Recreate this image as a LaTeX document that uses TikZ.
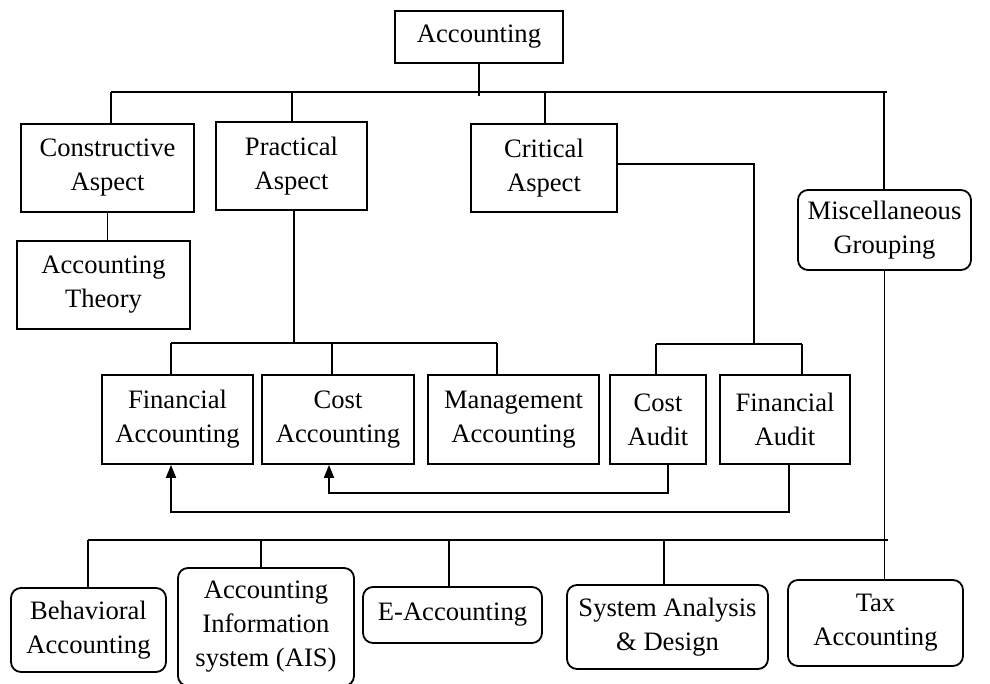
\documentclass[tikz,border=0pt]{standalone}
\usepackage{fontspec}
\setmainfont{Liberation Serif}
\usetikzlibrary{arrows.meta}
\begin{document}
\begin{tikzpicture}[x=1pt,y=-1pt,
  box/.style={draw, line width=1.8pt, align=center, inner sep=0pt,
    font=\fontsize{26.6}{34}\selectfont},
  rbox/.style={box, rounded corners=10pt},
  link/.style={line width=1.8pt},
  arrowlink/.style={link, -{Triangle[length=13pt,width=10pt]}}]
\useasboundingbox (0,0) rectangle (990,684);

% boxes
\node[box, minimum width=168pt, minimum height=52pt] (acc) at (479,37) {Accounting};
\node[box, minimum width=173pt, minimum height=88pt] (cons) at (107.5,168) {Constructive\\Aspect};
\node[box, minimum width=151pt, minimum height=88pt] (prac) at (291.5,166) {Practical\\Aspect};
\node[box, minimum width=146pt, minimum height=88pt] (crit) at (544,168) {Critical\\Aspect};
\node[rbox, minimum width=173pt, minimum height=80pt] (misc) at (884.5,230) {Miscellaneous\\Grouping};
\node[box, minimum width=173pt, minimum height=88pt] (theory) at (103.5,285) {Accounting\\Theory};
\node[box, minimum width=151pt, minimum height=89pt] (facc) at (177.5,419.5) {Financial\\Accounting};
\node[box, minimum width=152pt, minimum height=89pt] (cacc) at (338,419.5) {Cost\\Accounting};
\node[box, minimum width=171pt, minimum height=89pt] (macc) at (513.5,419.5) {Management\\Accounting};
\node[box, minimum width=96pt, minimum height=89pt] (caud) at (658,419.5) {Cost\\Audit};
\node[box, minimum width=130pt, minimum height=89pt] (faud) at (785,419.5) {Financial\\Audit};
\node[rbox, minimum width=155pt, minimum height=84pt] (beh) at (88.5,630) {Behavioral\\Accounting};
\node[rbox, minimum width=176pt, minimum height=118pt] (ais) at (266,627) {Accounting\\Information\\system (AIS)};
\node[rbox, minimum width=179pt, minimum height=56pt] (eacc) at (452.5,615) {E-Accounting};
\node[rbox, minimum width=201pt, minimum height=84pt] (sad) at (667.5,627) {System Analysis\\\& Design};
\node[rbox, minimum width=175pt, minimum height=86pt] (tax) at (875.5,623) {Tax\\Accounting};

% first level bus
\coordinate (b1l) at (111,92);
\coordinate (b1p) at (292,92);
\coordinate (b1c) at (545,92);
\coordinate (b1r) at (887,92);
\coordinate (b1m) at (884,92);
\draw[link] (b1l) -- (b1r);
\draw[link] (acc.south) -- ++(0,32);
\draw[link] (b1l) -- (b1l |- cons.north);
\draw[link] (b1p) -- (b1p |- prac.north);
\draw[link] (b1c) -- (b1c |- crit.north);
\draw[link] (b1m) -- (b1m |- misc.north);
\draw[link] (cons.south) -- (cons.south |- theory.north);

% practical aspect branches
\coordinate (b2p) at (294,343);
\coordinate (b2l) at (171,343);
\coordinate (b2c) at (332,343);
\coordinate (b2r) at (497,343);
\draw[link] (b2p |- prac.south) -- (b2p);
\draw[link] (b2l) -- (b2r);
\draw[link] (b2l) -- (b2l |- facc.north);
\draw[link] (b2c) -- (b2c |- cacc.north);
\draw[link] (b2r) -- (b2r |- macc.north);

% critical aspect branches
\coordinate (cj) at (754,164);
\coordinate (b3c) at (754,344);
\coordinate (b3l) at (656,344);
\coordinate (b3r) at (802,344);
\draw[link] (cj -| crit.east) -- (cj) -- (b3c);
\draw[link] (b3l) -- (b3r);
\draw[link] (b3l) -- (b3l |- caud.north);
\draw[link] (b3r) -- (b3r |- faud.north);

% audit feedback arrows
\coordinate (a1) at (668,493);
\coordinate (a1e) at (329,493);
\coordinate (a2) at (789,512);
\coordinate (a2e) at (171,512);
\draw[arrowlink] (a1 |- caud.south) -- (a1) -- (a1e) -- (a1e |- cacc.south);
\draw[arrowlink] (a2 |- faud.south) -- (a2) -- (a2e) -- (a2e |- facc.south);

% miscellaneous grouping branches
\coordinate (b4l) at (88,540);
\coordinate (b4a) at (261,540);
\coordinate (b4e) at (449,540);
\coordinate (b4s) at (664,540);
\coordinate (b4r) at (888,540);
\draw[link] (misc.south) -- (misc.south |- tax.north);
\draw[link] (b4l) -- (b4r);
\draw[link] (b4l) -- (b4l |- beh.north);
\draw[link] (b4a) -- (b4a |- ais.north);
\draw[link] (b4e) -- (b4e |- eacc.north);
\draw[link] (b4s) -- (b4s |- sad.north);
\end{tikzpicture}
\end{document}
